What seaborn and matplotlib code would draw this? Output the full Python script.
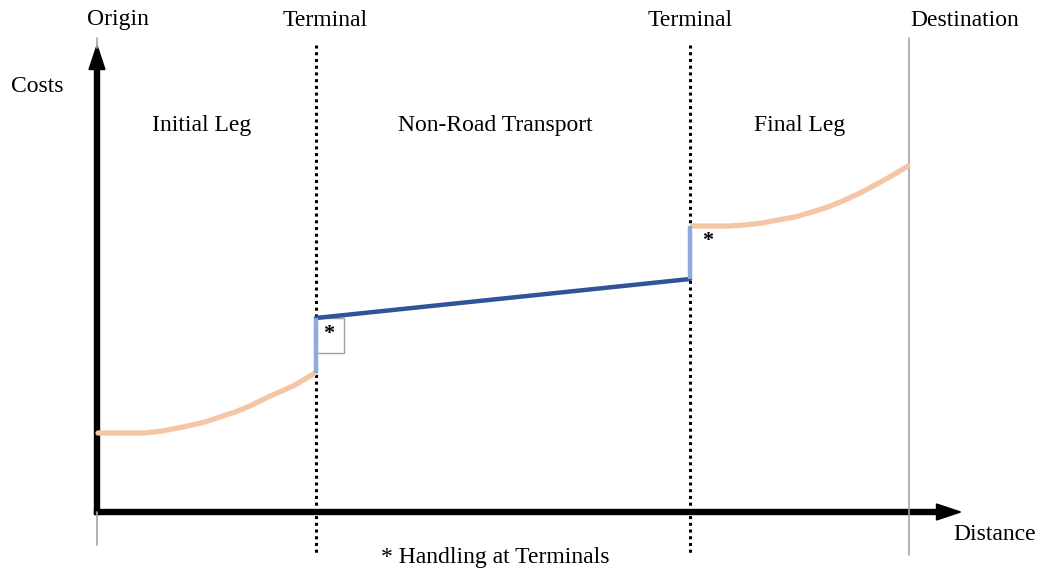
import matplotlib
matplotlib.use("Agg")
import matplotlib.pyplot as plt
import seaborn as sns
from matplotlib.patches import Rectangle

# key distances along the route (arbitrary units)
origin_x = 0
terminal_x = [219, 593]
destination_x = 812

# cost curves
initial_dist = [1, 23, 48, 65, 81, 95, 108, 123, 138, 153, 171, 185, 198, 208, 218]
initial_cost = [79, 79, 79, 81, 84, 87, 90, 95, 100, 106, 115, 121, 127, 133, 139]

nonroad_dist = [219, 593]
nonroad_cost = [194, 233]

handling_dist = [219, 593]
handling_low = [139, 233]
handling_high = [194, 286]

final_dist = [595, 613, 631, 648, 665, 681, 698, 715, 731, 748, 765, 778, 791, 801, 811]
final_cost = [286, 286, 286, 287, 289, 292, 295, 300, 305, 312, 320, 327, 334, 340, 346]

top_labels = ["Origin", "Terminal", "Terminal", "Destination"]
top_label_x = [21, 228, 593, 868]
leg_labels = ["Initial Leg", "Non-Road Transport", "Final Leg"]
leg_label_x = [105, 398, 703]

sns.set_style("white")
plt.rcParams['font.family'] = ['Liberation Serif', 'DejaVu Serif']
plt.rcParams['text.color'] = 'black'

fig = plt.figure(figsize=(10.38, 5.72), dpi=100)
ax = fig.add_axes([0, 0, 1, 1])
ax.set_xlim(-97, 941)
ax.set_ylim(-60, 512)
ax.axis("off")

peach = "#F5C6A5"
light_blue = "#8EA9DB"
dark_blue = "#2F5597"

# guide lines
ax.plot([origin_x, origin_x], [464, 474], color="#A6A6A6", lw=1.2)
ax.plot([origin_x, origin_x], [0, -33], color="#A6A6A6", lw=1.2)
ax.plot([destination_x, destination_x], [474, -43], color="#A6A6A6", lw=1.2)
for tx in terminal_x:
    ax.plot([tx, tx], [467, -41], color="black", lw=2.2, linestyle=(0, (1, 1.2)))

# cost curves
sns.lineplot(x=initial_dist, y=initial_cost, ax=ax, color=peach, lw=3.8, sort=False)
sns.lineplot(x=final_dist, y=final_cost, ax=ax, color=peach, lw=3.8, sort=False)
sns.lineplot(x=nonroad_dist, y=nonroad_cost, ax=ax, color=dark_blue, lw=3.2, sort=False)
for hx, lo, hi in zip(handling_dist, handling_low, handling_high):
    ax.plot([hx, hx], [lo, hi], color=light_blue, lw=3.2, solid_capstyle="butt")

# handling box
ax.add_patch(Rectangle((terminal_x[0], 159), 28, 35, fill=False, edgecolor="#A0A0A0", lw=1))
ax.text(232, 178, "*", ha="center", va="center", fontsize=16, fontweight="bold")
ax.text(611, 271, "*", ha="center", va="center", fontsize=16, fontweight="bold")

# axes arrows
ax.arrow(0, -2.5, 0, 469, width=5, head_width=16, head_length=24,
         length_includes_head=True, color="black")
ax.arrow(-2.5, 0, 866, 0, width=5, head_width=16, head_length=24,
         length_includes_head=True, color="black")

fs = 17
for lab, lx in zip(top_labels, top_label_x):
    ax.text(lx, 492, lab, ha="center", va="center", fontsize=fs)
for lab, lx in zip(leg_labels, leg_label_x):
    ax.text(lx, 386, lab, ha="center", va="center", fontsize=fs)
ax.text(-60, 426, "Costs", ha="center", va="center", fontsize=fs)
ax.text(898, -22, "Distance", ha="center", va="center", fontsize=fs)
ax.text(398, -46, "* Handling at Terminals", ha="center", va="center", fontsize=fs)

fig.savefig("out.png", dpi=100)
